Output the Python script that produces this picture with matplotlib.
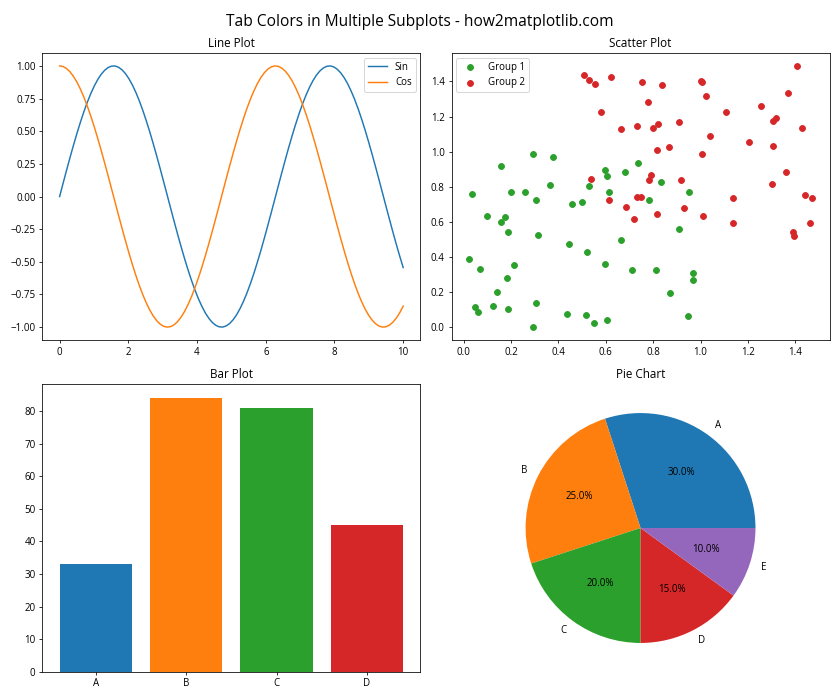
import matplotlib.pyplot as plt
import numpy as np

plt.rcParams['font.family'] = ['Open Sans', 'DejaVu Sans']

# scatter data
g1_x = [0.034, 0.156, 0.198, 0.259, 0.291, 0.375, 0.366, 0.305, 0.498, 0.527,
        0.598, 0.607, 0.612, 0.683, 0.734, 0.455, 0.835, 0.953, 0.784, 0.911,
        0.810, 0.966, 0.970, 0.869, 0.949, 0.097, 0.173, 0.156, 0.186, 0.312,
        0.443, 0.519, 0.662, 0.021, 0.067, 0.211, 0.181, 0.595, 0.709, 0.139,
        0.046, 0.059, 0.122, 0.186, 0.304, 0.434, 0.515, 0.548, 0.603, 0.291]
g1_y = [0.762, 0.921, 0.773, 0.773, 0.989, 0.972, 0.813, 0.728, 0.711, 0.802,
        0.898, 0.864, 0.773, 0.887, 0.938, 0.705, 0.830, 0.773, 0.728, 0.563,
        0.325, 0.308, 0.269, 0.195, 0.065, 0.637, 0.626, 0.598, 0.541, 0.524,
        0.473, 0.427, 0.495, 0.388, 0.331, 0.354, 0.280, 0.359, 0.325, 0.201,
        0.116, 0.087, 0.121, 0.104, 0.138, 0.076, 0.070, 0.025, 0.042, 0.002]
g2_x = [0.506, 0.531, 0.553, 0.620, 0.751, 0.578, 0.662, 0.730, 0.536, 0.612,
        0.730, 0.687, 0.721, 0.839, 1.000, 1.005, 1.409, 0.780, 1.021, 1.371,
        1.257, 1.109, 0.801, 0.822, 0.911, 1.307, 1.320, 1.430, 1.042, 1.206,
        1.307, 0.818, 0.865, 1.008, 0.789, 0.784, 0.919, 1.362, 1.303, 1.139,
        1.442, 1.472, 0.749, 0.928, 0.814, 1.012, 1.135, 1.464, 1.392, 1.396]
g2_y = [1.437, 1.408, 1.385, 1.425, 1.397, 1.227, 1.130, 1.147, 0.847, 0.728,
        0.741, 0.688, 0.615, 1.380, 1.402, 1.395, 1.488, 1.283, 1.317, 1.334,
        1.261, 1.227, 1.136, 1.159, 1.170, 1.176, 1.193, 1.136, 1.091, 1.057,
        1.034, 1.011, 1.028, 0.989, 0.870, 0.841, 0.841, 0.887, 0.819, 0.739,
        0.752, 0.739, 0.743, 0.677, 0.643, 0.637, 0.592, 0.592, 0.541, 0.518]

bar_cats = ['A', 'B', 'C', 'D']
bar_vals = [33, 84, 81, 45]

pie_labels = ['A', 'B', 'C', 'D', 'E']
pie_sizes = [30, 25, 20, 15, 10]

x = np.linspace(0, 10, 100)

fig, axs = plt.subplots(2, 2, figsize=(12, 10), dpi=70)
fig.suptitle('Tab Colors in Multiple Subplots - how2matplotlib.com', fontsize=16)

ax = axs[0, 0]
ax.plot(x, np.sin(x), color='tab:blue', label='Sin')
ax.plot(x, np.cos(x), color='tab:orange', label='Cos')
ax.set_title('Line Plot')
ax.legend(loc='upper right')

ax = axs[0, 1]
ax.scatter(g1_x, g1_y, color='tab:green', label='Group 1')
ax.scatter(g2_x, g2_y, color='tab:red', label='Group 2')
ax.set_title('Scatter Plot')
ax.legend(loc='upper left')

ax = axs[1, 0]
ax.bar(bar_cats, bar_vals, color=['tab:blue', 'tab:orange', 'tab:green', 'tab:red'])
ax.set_title('Bar Plot')

ax = axs[1, 1]
ax.pie(pie_sizes, labels=pie_labels, autopct='%1.1f%%',
       colors=['tab:blue', 'tab:orange', 'tab:green', 'tab:red', 'tab:purple'])
ax.set_title('Pie Chart')

plt.tight_layout()
plt.savefig('out.png')
